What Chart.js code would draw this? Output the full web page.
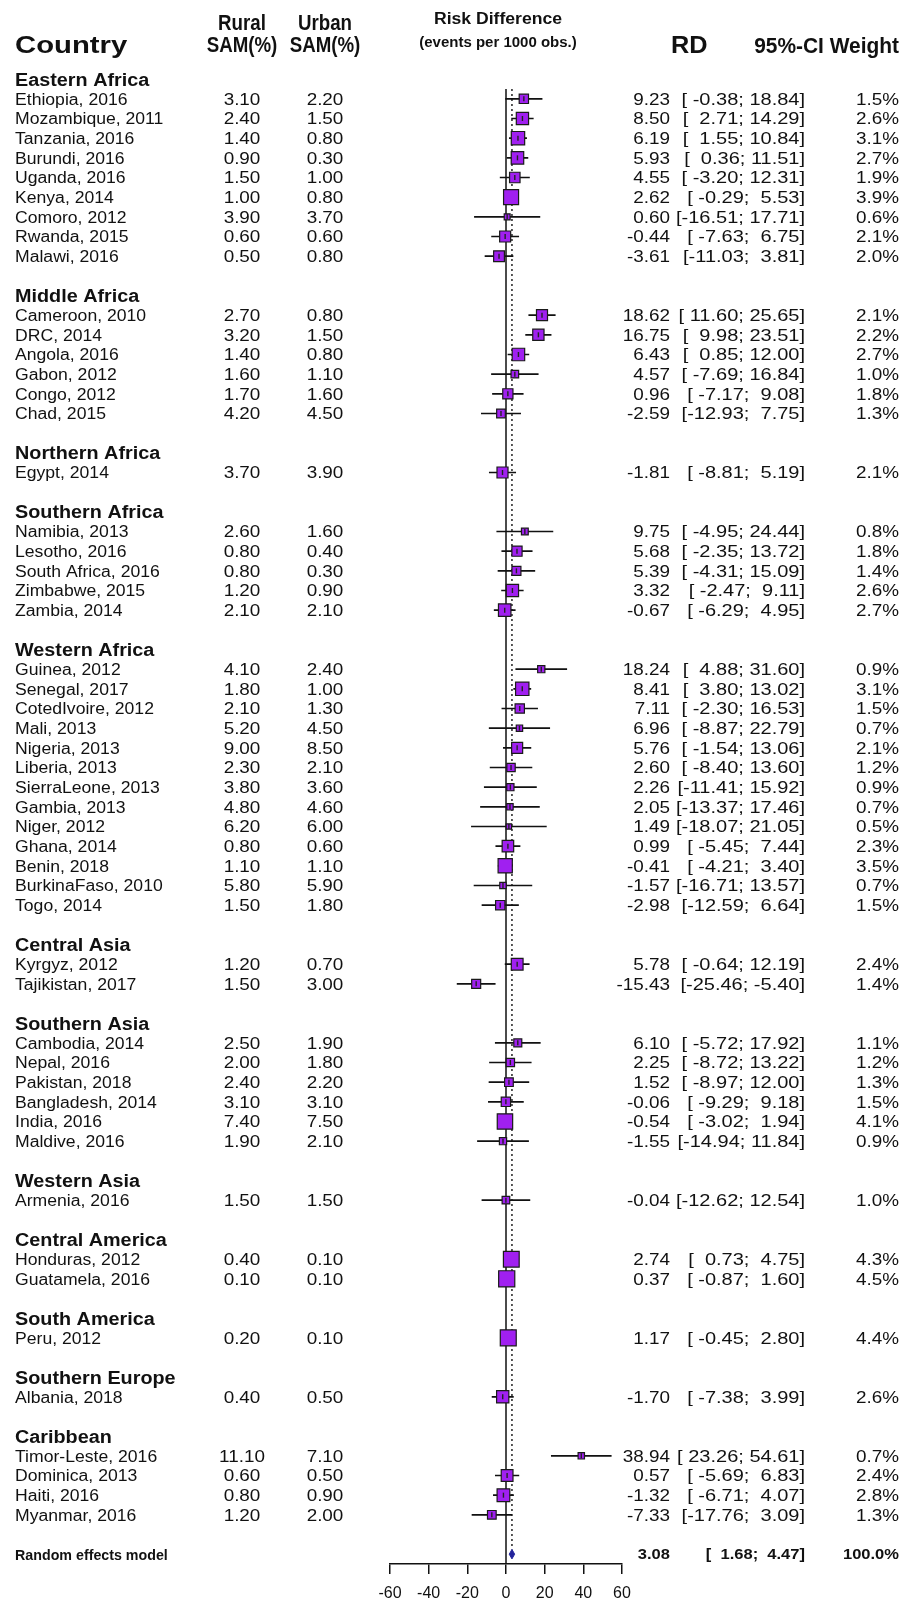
<!DOCTYPE html>
<html>
<head>
<meta charset="utf-8">
<title>Forest plot - SAM rural vs urban</title>
<script src="https://cdn.jsdelivr.net/npm/chart.js@4.4.1/dist/chart.umd.min.js"></script>
<style>
  body { margin: 0; background: #fff; }
  #wrap { width: 904px; height: 1602px; }
</style>
</head>
<body>
<div id="wrap"><canvas id="forest"></canvas></div>
<script>
// ---- data ----
const groupNames = ['Eastern Africa', 'Middle Africa', 'Northern Africa', 'Southern Africa', 'Western Africa',
  'Central Asia', 'Southern Asia', 'Western Asia', 'Central America', 'South America', 'Southern Europe', 'Caribbean'];
const groupSizes = [9, 6, 1, 5, 13, 2, 6, 1, 2, 1, 1, 4];

const studyLabels = [
  'Ethiopia, 2016', 'Mozambique, 2011', 'Tanzania, 2016', 'Burundi, 2016', 'Uganda, 2016', 'Kenya, 2014', 'Comoro, 2012', 'Rwanda, 2015', 'Malawi, 2016',
  'Cameroon, 2010', 'DRC, 2014', 'Angola, 2016', 'Gabon, 2012', 'Congo, 2012', 'Chad, 2015',
  'Egypt, 2014',
  'Namibia, 2013', 'Lesotho, 2016', 'South Africa, 2016', 'Zimbabwe, 2015', 'Zambia, 2014',
  'Guinea, 2012', 'Senegal, 2017', 'CotedIvoire, 2012', 'Mali, 2013', 'Nigeria, 2013', 'Liberia, 2013', 'SierraLeone, 2013',
  'Gambia, 2013', 'Niger, 2012', 'Ghana, 2014', 'Benin, 2018', 'BurkinaFaso, 2010', 'Togo, 2014',
  'Kyrgyz, 2012', 'Tajikistan, 2017',
  'Cambodia, 2014', 'Nepal, 2016', 'Pakistan, 2018', 'Bangladesh, 2014', 'India, 2016', 'Maldive, 2016',
  'Armenia, 2016',
  'Honduras, 2012', 'Guatamela, 2016',
  'Peru, 2012',
  'Albania, 2018',
  'Timor-Leste, 2016', 'Dominica, 2013', 'Haiti, 2016', 'Myanmar, 2016'
];
const ruralSam = [3.10, 2.40, 1.40, 0.90, 1.50, 1.00, 3.90, 0.60, 0.50,
  2.70, 3.20, 1.40, 1.60, 1.70, 4.20,
  3.70,
  2.60, 0.80, 0.80, 1.20, 2.10,
  4.10, 1.80, 2.10, 5.20, 9.00, 2.30, 3.80, 4.80, 6.20, 0.80, 1.10, 5.80, 1.50,
  1.20, 1.50,
  2.50, 2.00, 2.40, 3.10, 7.40, 1.90,
  1.50,
  0.40, 0.10,
  0.20,
  0.40,
  11.10, 0.60, 0.80, 1.20];
const urbanSam = [2.20, 1.50, 0.80, 0.30, 1.00, 0.80, 3.70, 0.60, 0.80,
  0.80, 1.50, 0.80, 1.10, 1.60, 4.50,
  3.90,
  1.60, 0.40, 0.30, 0.90, 2.10,
  2.40, 1.00, 1.30, 4.50, 8.50, 2.10, 3.60, 4.60, 6.00, 0.60, 1.10, 5.90, 1.80,
  0.70, 3.00,
  1.90, 1.80, 2.20, 3.10, 7.50, 2.10,
  1.50,
  0.10, 0.10,
  0.10,
  0.50,
  7.10, 0.50, 0.90, 2.00];
const rdValues = [9.23, 8.50, 6.19, 5.93, 4.55, 2.62, 0.60, -0.44, -3.61,
  18.62, 16.75, 6.43, 4.57, 0.96, -2.59,
  -1.81,
  9.75, 5.68, 5.39, 3.32, -0.67,
  18.24, 8.41, 7.11, 6.96, 5.76, 2.60, 2.26, 2.05, 1.49, 0.99, -0.41, -1.57, -2.98,
  5.78, -15.43,
  6.10, 2.25, 1.52, -0.06, -0.54, -1.55,
  -0.04,
  2.74, 0.37,
  1.17,
  -1.70,
  38.94, 0.57, -1.32, -7.33];
const ciLower = [-0.38, 2.71, 1.55, 0.36, -3.20, -0.29, -16.51, -7.63, -11.03,
  11.60, 9.98, 0.85, -7.69, -7.17, -12.93,
  -8.81,
  -4.95, -2.35, -4.31, -2.47, -6.29,
  4.88, 3.80, -2.30, -8.87, -1.54, -8.40, -11.41, -13.37, -18.07, -5.45, -4.21, -16.71, -12.59,
  -0.64, -25.46,
  -5.72, -8.72, -8.97, -9.29, -3.02, -14.94,
  -12.62,
  0.73, -0.87,
  -0.45,
  -7.38,
  23.26, -5.69, -6.71, -17.76];
const ciUpper = [18.84, 14.29, 10.84, 11.51, 12.31, 5.53, 17.71, 6.75, 3.81,
  25.65, 23.51, 12.00, 16.84, 9.08, 7.75,
  5.19,
  24.44, 13.72, 15.09, 9.11, 4.95,
  31.60, 13.02, 16.53, 22.79, 13.06, 13.60, 15.92, 17.46, 21.05, 7.44, 3.40, 13.57, 6.64,
  12.19, -5.40,
  17.92, 13.22, 12.00, 9.18, 1.94, 11.84,
  12.54,
  4.75, 1.60,
  2.80,
  3.99,
  54.61, 6.83, 4.07, 3.09];
const weights = [1.5, 2.6, 3.1, 2.7, 1.9, 3.9, 0.6, 2.1, 2.0,
  2.1, 2.2, 2.7, 1.0, 1.8, 1.3,
  2.1,
  0.8, 1.8, 1.4, 2.6, 2.7,
  0.9, 3.1, 1.5, 0.7, 2.1, 1.2, 0.9, 0.7, 0.5, 2.3, 3.5, 0.7, 1.5,
  2.4, 1.4,
  1.1, 1.2, 1.3, 1.5, 4.1, 0.9,
  1.0,
  4.3, 4.5,
  4.4,
  2.6,
  0.7, 2.4, 2.8, 1.3];

const pooledRD = 3.08;
const pooledLower = 1.68;
const pooledUpper = 4.47;
const pooledWeight = 100.0;
const xTicks = [-60, -40, -20, 0, 20, 40, 60];

// ---- row layout: header, studies, blank line per subgroup ----
const headerRows = [];
const studyRows = [];
let row = 0;
groupSizes.forEach(n => {
  headerRows.push(row);
  row++;
  for (let k = 0; k < n; k++) { studyRows.push(row); row++; }
  row++;
});
const pooledRow = row;

// column anchors (pixels)
const COL = { country: 15, rural: 242, urban: 325, rd: 670, ci: 805, weight: 899 };
const FONT = '"Liberation Sans", Arial, sans-serif';

function boxSide(w) { return 7.6 * Math.sqrt(w); }

function putText(ctx, str, x, y, size, weight, align, sx) {
  ctx.save();
  ctx.font = weight + ' ' + size + 'px ' + FONT;
  ctx.textAlign = align;
  ctx.textBaseline = 'alphabetic';
  ctx.fillStyle = '#111';
  ctx.translate(x, y + size * 0.36);
  ctx.scale(sx, 1);
  ctx.fillText(str, 0, 0);
  ctx.restore();
}

function fmtCI(lo, hi) {
  return '[' + lo.toFixed(2).padStart(6) + '; ' + hi.toFixed(2).padStart(5) + ']';
}

// CI segments, broken by gaps
const ciSegments = [];
rdValues.forEach((v, i) => {
  ciSegments.push({ x: ciLower[i], y: studyRows[i] }, { x: ciUpper[i], y: studyRows[i] }, { x: NaN, y: NaN });
});

const forestText = {
  id: 'forestText',
  afterDraw(chart) {
    const ctx = chart.ctx;
    const ys = chart.scales.y;

    // column headings
    putText(ctx, 'Country', COL.country, 44, 24, 'bold', 'left', 1.22);
    putText(ctx, 'Rural', COL.rural, 22, 22, 'bold', 'center', 0.85);
    putText(ctx, 'SAM(%)', COL.rural, 44, 22, 'bold', 'center', 0.85);
    putText(ctx, 'Urban', COL.urban, 22, 22, 'bold', 'center', 0.85);
    putText(ctx, 'SAM(%)', COL.urban, 44, 22, 'bold', 'center', 0.85);
    putText(ctx, 'Risk Difference', 498, 18, 16, 'bold', 'center', 1.1);
    putText(ctx, '(events per 1000 obs.)', 498, 42, 15, 'bold', 'center', 1.0);
    putText(ctx, 'RD', 671, 45, 23, 'bold', 'left', 1.1);
    putText(ctx, '95%-CI Weight', COL.weight, 45, 22, 'bold', 'right', 0.95);

    headerRows.forEach((r, g) => {
      putText(ctx, groupNames[g], COL.country, ys.getPixelForValue(r), 18, 'bold', 'left', 1.1);
    });

    studyLabels.forEach((s, i) => {
      const y = ys.getPixelForValue(studyRows[i]);
      putText(ctx, s, COL.country, y, 16, 'normal', 'left', 1.1);
      putText(ctx, ruralSam[i].toFixed(2), COL.rural, y, 16, 'normal', 'center', 1.18);
      putText(ctx, urbanSam[i].toFixed(2), COL.urban, y, 16, 'normal', 'center', 1.18);
      putText(ctx, rdValues[i].toFixed(2), COL.rd, y, 16, 'normal', 'right', 1.18);
      putText(ctx, fmtCI(ciLower[i], ciUpper[i]), COL.ci, y, 16, 'normal', 'right', 1.25);
      putText(ctx, weights[i].toFixed(1) + '%', COL.weight, y, 16, 'normal', 'right', 1.18);
    });

    const yp = ys.getPixelForValue(pooledRow);
    putText(ctx, 'Random effects model', COL.country, yp, 15, 'bold', 'left', 0.95);
    putText(ctx, pooledRD.toFixed(2), COL.rd, yp, 14, 'bold', 'right', 1.18);
    putText(ctx, fmtCI(pooledLower, pooledUpper), COL.ci, yp, 14, 'bold', 'right', 1.18);
    putText(ctx, pooledWeight.toFixed(1) + '%', COL.weight, yp, 14, 'bold', 'right', 1.18);
  }
};

const chart = new Chart(document.getElementById('forest'), {
  type: 'scatter',
  data: {
    datasets: [
      {
        // small vertical mark at the estimate, when the CI pokes out of the box
        label: 'estimate',
        data: rdValues.map((v, i) => ({ x: v, y: studyRows[i] })),
        pointStyle: 'line',
        rotation: 90,
        pointRadius: function (ctx) {
          const i = ctx.dataIndex;
          const xs = ctx.chart.scales.x;
          const half = boxSide(weights[i]) / 2;
          const c = xs.getPixelForValue(rdValues[i]);
          const out = (c - xs.getPixelForValue(ciLower[i]) > half + 1) || (xs.getPixelForValue(ciUpper[i]) - c > half + 1);
          return out ? 2.5 : 0;
        },
        borderColor: '#222',
        borderWidth: 1.4,
        order: 0
      },
      {
        label: 'boxes',
        data: rdValues.map((v, i) => ({ x: v, y: studyRows[i] })),
        pointStyle: 'rect',
        pointRadius: weights.map(w => boxSide(w) * Math.SQRT1_2),
        backgroundColor: '#A020F0',
        borderColor: '#1a1a1a',
        borderWidth: 1.2,
        order: 1
      },
      {
        label: 'ci',
        data: ciSegments,
        showLine: true,
        spanGaps: false,
        pointRadius: 0,
        borderColor: '#111',
        borderWidth: 1.6,
        order: 2
      },
      {
        label: 'diamond',
        data: [
          { x: pooledLower, y: pooledRow },
          { x: pooledRD, y: pooledRow - 0.24 },
          { x: pooledUpper, y: pooledRow },
          { x: pooledRD, y: pooledRow + 0.24 },
          { x: pooledLower, y: pooledRow }
        ],
        showLine: true,
        fill: 'shape',
        pointRadius: 0,
        borderColor: '#23239b',
        backgroundColor: '#23239b',
        borderWidth: 1,
        order: 3
      },
      {
        label: 'pooled',
        data: [{ x: pooledRD, y: 0.5 }, { x: pooledRD, y: pooledRow - 0.24 }],
        showLine: true,
        pointRadius: 0,
        borderColor: '#222',
        borderWidth: 1.5,
        borderDash: [2, 3],
        order: 4
      },
      {
        label: 'no effect',
        data: [{ x: 0, y: 0.5 }, { x: 0, y: pooledRow + 0.5 }],
        showLine: true,
        pointRadius: 0,
        borderColor: '#111',
        borderWidth: 1.5,
        order: 5
      }
    ]
  },
  options: {
    responsive: true,
    maintainAspectRatio: false,
    animation: false,
    events: [],
    layout: { padding: { left: 390, right: 282, top: 89, bottom: 0 } },
    plugins: { legend: { display: false }, tooltip: { enabled: false } },
    scales: {
      x: {
        type: 'linear',
        min: -60,
        max: 60,
        afterBuildTicks: scale => { scale.ticks = xTicks.map(v => ({ value: v })); },
        afterFit: scale => { scale.height = 38; },
        ticks: { color: '#111', font: { family: FONT, size: 16 }, padding: 10, maxRotation: 0 },
        grid: { drawOnChartArea: false, drawTicks: true, tickLength: 10, color: '#111', lineWidth: 1.5 },
        border: { display: true, color: '#111', width: 1.5 }
      },
      y: {
        type: 'linear',
        reverse: true,
        min: 0.5,
        max: pooledRow + 0.5,
        display: false
      }
    }
  },
  plugins: [forestText]
});
</script>
</body>
</html>
